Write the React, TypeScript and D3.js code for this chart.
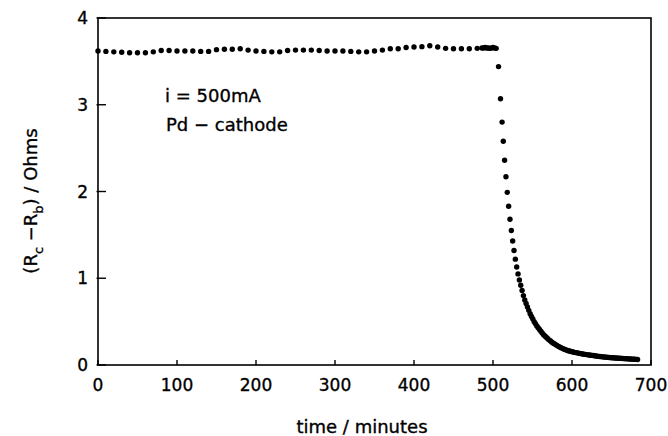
import React from 'react'
import * as d3 from 'd3'

// plateau, sampled every 10 min
const plateauTimes = [
  0, 10, 20, 30, 40, 50, 60, 70, 80, 90, 100, 110, 120, 130, 140, 150, 160, 170, 180, 190,
  200, 210, 220, 230, 240, 250, 260, 270, 280, 290, 300, 310, 320, 330, 340, 350, 360, 370,
  380, 390, 400, 410, 420, 430, 440, 450, 460, 470, 480
]
const plateauValues = [
  3.62, 3.615, 3.61, 3.605, 3.6, 3.6, 3.6, 3.61, 3.625, 3.625, 3.62, 3.62, 3.62, 3.615, 3.615,
  3.635, 3.64, 3.64, 3.645, 3.63, 3.62, 3.615, 3.61, 3.61, 3.625, 3.63, 3.63, 3.63, 3.625, 3.62,
  3.62, 3.62, 3.615, 3.61, 3.61, 3.62, 3.63, 3.645, 3.645, 3.66, 3.665, 3.67, 3.68, 3.665, 3.65,
  3.645, 3.645, 3.645, 3.65
]

// dense sampling just before the drop
const clusterTimes = [486, 488, 490, 492, 494, 496, 498, 500, 502, 504]
const clusterValues = [3.655, 3.655, 3.66, 3.655, 3.655, 3.65, 3.655, 3.66, 3.655, 3.65]

// decay after ~505 min
const decayTimes = [
  507, 509.5, 511.5, 513, 514.7, 516.4, 518.1, 519.8, 521.5, 523.2, 524.9, 526.6, 528.3, 530,
  531.7, 533.4, 535.1, 536.8, 538.5, 540.2, 541.9, 543.6, 545.3, 547, 548.7, 550.4, 552.1,
  553.8, 555.5, 557.2, 558.9, 560.6, 562.3, 564, 565.7, 567.4, 569.1, 570.8, 572.5, 574.2,
  575.9, 577.6, 579.3, 581, 582.7, 584.4, 586.1, 587.8, 589.5, 591.2, 592.9, 594.6, 596.3, 598,
  599.7, 601.4, 603.1, 604.8, 606.5, 608.2, 609.9, 611.6, 613.3, 615, 616.7, 618.4, 620.1,
  621.8, 623.5, 625.2, 626.9, 628.6, 630.3, 632, 633.7, 635.4, 637.1, 638.8, 640.5, 642.2,
  643.9, 645.6, 647.3, 649, 650.7, 652.4, 654.1, 655.8, 657.5, 659.2, 660.9, 662.6, 664.3, 666,
  667.7, 669.4, 671.1, 672.8, 674.5, 676.2, 677.9, 679.6, 681.3, 683
]
const decayValues = [
  3.44, 3.07, 2.8, 2.58, 2.36, 2.17, 1.99, 1.83, 1.68, 1.55, 1.43, 1.32, 1.22, 1.13, 1.05, 0.98,
  0.92, 0.86, 0.8, 0.75, 0.71, 0.67, 0.63, 0.59, 0.56, 0.53, 0.5, 0.475, 0.45, 0.43, 0.41, 0.39,
  0.37, 0.35, 0.335, 0.32, 0.305, 0.29, 0.28, 0.265, 0.255, 0.245, 0.235, 0.225, 0.215, 0.208,
  0.2, 0.192, 0.185, 0.178, 0.172, 0.167, 0.162, 0.158, 0.154, 0.15, 0.146, 0.143, 0.14, 0.137,
  0.134, 0.131, 0.128, 0.125, 0.122, 0.12, 0.117, 0.115, 0.113, 0.111, 0.109, 0.107, 0.105,
  0.102, 0.1, 0.098, 0.096, 0.094, 0.093, 0.091, 0.09, 0.088, 0.087, 0.085, 0.084, 0.083, 0.081,
  0.08, 0.079, 0.078, 0.077, 0.076, 0.075, 0.074, 0.073, 0.072, 0.071, 0.07, 0.069, 0.068, 0.067,
  0.066, 0.065, 0.064
]

const xTicks = [0, 100, 200, 300, 400, 500, 600, 700]
const yTicks = [0, 1, 2, 3, 4]

const W = 668
const H = 436
const left = 98
const right = 651
const top = 18
const bottom = 365
const font = 'DejaVu Sans, sans-serif'

export default function App() {
  const x = d3.scaleLinear().domain([0, 700]).range([left, right])
  const y = d3.scaleLinear().domain([0, 4]).range([bottom, top])

  const times = [...plateauTimes, ...clusterTimes, ...decayTimes]
  const values = [...plateauValues, ...clusterValues, ...decayValues]
  const points = times.map((t, i) => [t, values[i]])

  // slight stroke on text to mimic the heavier print
  const txt = { stroke: '#000', strokeWidth: 0.35 }

  return (
    <svg
      width={W}
      height={H}
      style={{ position: 'absolute', left: 0, top: 0, background: '#fff' }}
      fontFamily={font}
    >
      {/* frame */}
      <rect x={left} y={top} width={right - left} height={bottom - top} fill="none" stroke="#000" strokeWidth={1.6} />

      {/* y ticks */}
      {yTicks.map(d => (
        <g key={'y' + d}>
          <line x1={left - 1.5} x2={left + 8} y1={y(d)} y2={y(d)} stroke="#000" strokeWidth={1.4} />
          <text x={88} y={y(d)} dy="0.36em" textAnchor="end" fontSize={17} {...txt}>
            {d}
          </text>
        </g>
      ))}

      {/* x ticks */}
      {xTicks.map(d => (
        <g key={'x' + d}>
          <line x1={x(d)} x2={x(d)} y1={bottom} y2={bottom - 5} stroke="#000" strokeWidth={1.4} />
          <text x={x(d)} y={391} textAnchor="middle" fontSize={17} {...txt}>
            {d}
          </text>
        </g>
      ))}

      {/* data */}
      {points.map((p, i) => (
        <circle key={i} cx={x(p[0])} cy={y(p[1])} r={2.7} fill="#000" />
      ))}

      {/* annotations */}
      <text x={165} y={102} fontSize={18} {...txt}>i = 500mA</text>
      <text x={166} y={131} fontSize={18} {...txt}>Pd − cathode</text>

      {/* axis titles */}
      <text x={362} y={433} textAnchor="middle" fontSize={18} {...txt}>time / minutes</text>
      <text transform="translate(37,201) rotate(-90)" textAnchor="middle" fontSize={18} {...txt}>
        (R<tspan fontSize={13} dy={6}>c</tspan>
        <tspan dy={-6}> −R</tspan>
        <tspan fontSize={13} dy={6}>b</tspan>
        <tspan dy={-6}>) / Ohms</tspan>
      </text>
    </svg>
  )
}
